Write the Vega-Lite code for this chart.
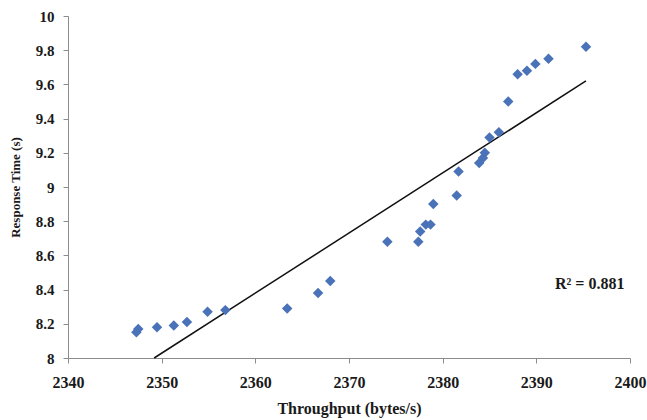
{
  "$schema": "https://vega.github.io/schema/vega-lite/v6.json",
  "width": 562,
  "height": 342,
  "autosize": {"type": "none"},
  "padding": {"left": 68, "top": 16, "right": 17, "bottom": 62},
  "background": "white",
  "config": {"view": {"stroke": null}, "font": "Liberation Serif"},
  "datasets": {
    "points": [
      {"throughput": 2347.3, "response": 8.15},
      {"throughput": 2347.5, "response": 8.17},
      {"throughput": 2349.5, "response": 8.18},
      {"throughput": 2351.3, "response": 8.19},
      {"throughput": 2352.7, "response": 8.21},
      {"throughput": 2354.9, "response": 8.27},
      {"throughput": 2356.8, "response": 8.28},
      {"throughput": 2363.4, "response": 8.29},
      {"throughput": 2366.7, "response": 8.38},
      {"throughput": 2368.0, "response": 8.45},
      {"throughput": 2374.1, "response": 8.68},
      {"throughput": 2377.4, "response": 8.68},
      {"throughput": 2377.6, "response": 8.74},
      {"throughput": 2378.2, "response": 8.78},
      {"throughput": 2378.7, "response": 8.78},
      {"throughput": 2379.0, "response": 8.90},
      {"throughput": 2381.5, "response": 8.95},
      {"throughput": 2381.7, "response": 9.09},
      {"throughput": 2383.9, "response": 9.14},
      {"throughput": 2384.3, "response": 9.17},
      {"throughput": 2384.5, "response": 9.20},
      {"throughput": 2385.0, "response": 9.29},
      {"throughput": 2386.0, "response": 9.32},
      {"throughput": 2387.0, "response": 9.50},
      {"throughput": 2388.0, "response": 9.66},
      {"throughput": 2389.0, "response": 9.68},
      {"throughput": 2389.9, "response": 9.72},
      {"throughput": 2391.3, "response": 9.75},
      {"throughput": 2395.3, "response": 9.82}
    ],
    "trend": [
      {"throughput": 2349.2, "response": 8.0},
      {"throughput": 2395.3, "response": 9.62}
    ],
    "label": [
      {"throughput": 2395.7, "response": 8.43, "text": "R² = 0.881"}
    ]
  },
  "encoding": {
    "x": {
      "field": "throughput", "type": "quantitative",
      "scale": {"domain": [2340, 2400], "nice": false, "zero": false},
      "axis": {
        "title": "Throughput (bytes/s)", "values": [2340, 2350, 2360, 2370, 2380, 2390, 2400],
        "format": "d",
        "grid": false, "domainColor": "#8c8c8c", "tickColor": "#8c8c8c", "tickSize": 5,
        "labelFont": "Liberation Serif", "labelFontSize": 16, "labelFontWeight": "bold", "labelColor": "#1a1a1a",
        "labelPadding": 11, "titleFont": "Liberation Serif", "titleFontSize": 16, "titleFontWeight": "bold",
        "titleColor": "#1a1a1a", "titlePadding": 10, "labelFlush": false
      }
    },
    "y": {
      "field": "response", "type": "quantitative",
      "scale": {"domain": [8, 10], "nice": false, "zero": false},
      "axis": {
        "title": "Response Time (s)", "values": [8, 8.2, 8.4, 8.6, 8.8, 9, 9.2, 9.4, 9.6, 9.8, 10],
        "labelExpr": "'' + datum.value",
        "grid": false, "domainColor": "#8c8c8c", "tickColor": "#8c8c8c", "tickSize": 5,
        "labelFont": "Liberation Serif", "labelFontSize": 15, "labelFontWeight": "bold", "labelColor": "#1a1a1a",
        "labelPadding": 9, "titleFont": "Liberation Serif", "titleFontSize": 13, "titleFontWeight": "bold",
        "titleColor": "#1a1a1a", "titlePadding": 13, "labelFlush": false
      }
    }
  },
  "layer": [
    {
      "data": {"name": "trend"},
      "mark": {"type": "line", "color": "#111111", "strokeWidth": 1.5},
      "encoding": {}
    },
    {
      "data": {"name": "points"},
      "mark": {"type": "point", "shape": "diamond", "filled": true, "size": 110, "color": "#4A72B8", "opacity": 1},
      "encoding": {}
    },
    {
      "data": {"name": "label"},
      "mark": {"type": "text", "font": "Liberation Serif", "fontSize": 16, "fontWeight": "bold", "color": "#1a1a1a", "align": "center", "baseline": "middle"},
      "encoding": {"text": {"field": "text"}}
    }
  ]
}
